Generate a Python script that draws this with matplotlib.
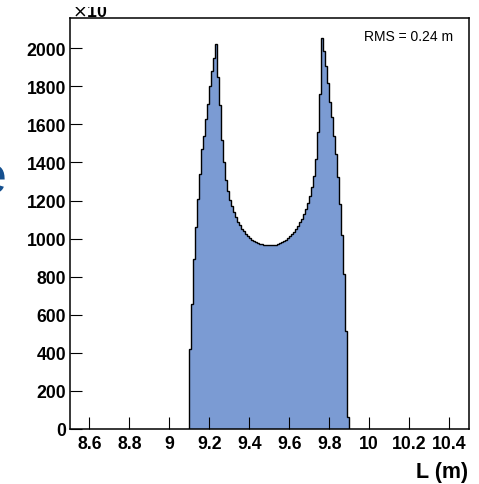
import numpy as np
import matplotlib
matplotlib.use('Agg')
import matplotlib.pyplot as plt
from matplotlib.patches import Rectangle

# histogram contents, 0.01 m bins starting at 9.10 m
bin_lo = 9.10
bin_width = 0.01
counts = [420, 656, 893, 1060, 1207, 1339, 1470, 1540, 1628, 1706,
          1802, 1881, 1950, 2021,
          1850, 1700, 1520, 1400, 1310, 1250, 1205, 1170, 1140, 1115,
          1090, 1070, 1052, 1038, 1025, 1013, 1003, 995, 988, 982,
          977, 973, 970, 968, 966, 965,
          965, 966, 967, 969, 972, 976, 981, 987, 994, 1002,
          1012, 1023, 1036, 1050, 1066, 1085, 1105, 1128, 1155, 1185,
          1225, 1270, 1330, 1420, 1560, 1760,
          2053, 1985, 1905, 1820, 1720, 1640, 1540, 1444, 1323, 1181,
          1018, 814, 516, 61]

xticks = [8.6, 8.8, 9.0, 9.2, 9.4, 9.6, 9.8, 10.0, 10.2, 10.4]
xticklabels = ['8.6', '8.8', '9', '9.2', '9.4', '9.6', '9.8', '10', '10.2', '10.4']
yticks = [0, 200, 400, 600, 800, 1000, 1200, 1400, 1600, 1800, 2000]

plt.rcParams['font.family'] = ['Liberation Sans', 'DejaVu Sans']

W, H = 479, 485
fig = plt.figure(figsize=(W / 100, H / 100), dpi=100)
ax = fig.add_axes([69.5 / W, 1 - 430 / H, (469 - 69.5) / W, (430 - 19) / H])

edges = bin_lo + bin_width * np.arange(len(counts) + 1)
ax.stairs(counts, edges, fill=True, color='#7b9bd3', linewidth=0)
ax.stairs(counts, edges, color='black', linewidth=1.0, baseline=0)

ax.set_xlim(8.5, 10.5)
ax.set_ylim(0, 2159)
ax.set_xticks(xticks)
ax.set_xticklabels(xticklabels)
ax.set_yticks(yticks)
ax.minorticks_off()
ax.tick_params(direction='in', length=8.6, width=0.8, top=False, right=False,
               labelsize=12.7)
ax.tick_params(axis='x', pad=4)
ax.tick_params(axis='y', pad=2.5)
for lbl in ax.get_xticklabels() + ax.get_yticklabels():
    lbl.set_fontweight('bold')
for sp in ax.spines.values():
    sp.set_linewidth(1.1)

ax.text(0.96, 0.955, 'RMS = 0.24 m', transform=ax.transAxes, ha='right',
        va='center', fontsize=10)

fig.text(468 / W, 1 - 473 / H, 'L (m)', ha='right', va='center',
         fontsize=15.5, fontweight='bold')

# clipped exponent label at the top and a cut-off title letter on the left
fig.text(72 / W, 1 - 17 / H, r'$\times$10', ha='left', va='baseline',
         fontsize=12.7, fontweight='bold')
fig.patches.append(Rectangle((0, 1 - 8 / H), 1, 8 / H, transform=fig.transFigure,
                             facecolor='white', edgecolor='none', zorder=10))
fig.text(7 / W, 1 - 179 / H, 'e', ha='right', va='center', fontsize=39,
         color='#15508f')

plt.savefig('out.png', dpi=100)
